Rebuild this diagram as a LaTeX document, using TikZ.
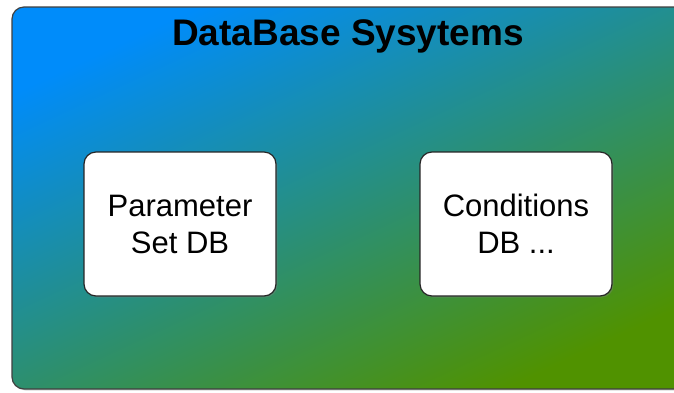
\documentclass[tikz,border=0pt]{standalone}
\usepackage{fontspec}
\setmainfont{Liberation Sans}
\usetikzlibrary{shadows}
\definecolor{dbblue}{RGB}{0,140,250}
\definecolor{dbteal}{RGB}{34,142,150}
\definecolor{dbgreen}{RGB}{80,146,0}
\tikzset{
  container/.style={draw=black!75, line width=1.2pt, rounded corners=12pt,
    shading=axis, top color=dbblue, middle color=dbteal, bottom color=dbgreen,
    shading angle=25},
  dbbox/.style={draw=black!85, line width=1.2pt, fill=white, rounded corners=12pt,
    minimum width=192pt, minimum height=144pt, align=center,
    font=\fontsize{31}{37}\selectfont,
    drop shadow={shadow xshift=1.5pt, shadow yshift=-1.5pt, opacity=0.35}},
  titletext/.style={font=\fontsize{37}{42}\selectfont\bfseries}
}
\begin{document}
\begin{tikzpicture}[x=1pt, y=-1pt]
  \useasboundingbox (0,0) rectangle (674,392);
  \fill[white] (0,0) rectangle (674,392);
  % outer system frame
  \path[container, drop shadow={shadow xshift=1.5pt, shadow yshift=-1.5pt, opacity=0.3}]
    (12,7) rectangle (690,389);
  \node[titletext, anchor=base] (title) at (348,45) {DataBase Sysytems};
  % database components
  \node[dbbox] (param) at (180,224) {Parameter\\Set DB};
  \node[dbbox] (cond) at (516,224) {Conditions\\DB ...};
\end{tikzpicture}
\end{document}
